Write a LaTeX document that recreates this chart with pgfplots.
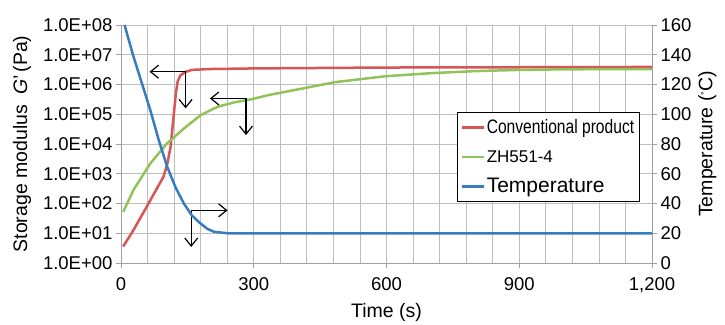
\documentclass[border=0pt]{standalone}
\usepackage{pgfplots}
\pgfplotsset{compat=1.18}
\usepackage{graphicx}
\usepackage{fontspec}
\setmainfont{Liberation Sans}
\usetikzlibrary{arrows.meta}
\definecolor{cred}{RGB}{215,85,85}
\definecolor{cgreen}{RGB}{145,195,90}
\definecolor{cblue}{RGB}{55,125,190}
\definecolor{cgrid}{RGB}{190,190,190}
\definecolor{caxis}{RGB}{160,160,160}
\begin{document}
\begin{tikzpicture}[font=\fontsize{18}{18}\selectfont]
\pgfplotsset{
  every axis/.append style={
    scale only axis, width=531pt, height=238pt,
    xmin=0, xmax=1200,
    tick align=outside, major tick length=5pt, minor tick length=0pt,
    tick style={caxis, line width=0.8pt},
    axis line style={caxis, line width=0.8pt},
    /pgf/number format/assume math mode=true,
    ticklabel style={font=\fontsize{18.5}{18}\selectfont},
    label style={font=\fontsize{19.5}{22}\selectfont},
  }
}
\begin{axis}[
  name=ax,
  ymode=log, ymin=1, ymax=1e8,
  axis x line*=bottom, axis y line*=left,
  ytick={1,10,100,1000,10000,100000,1000000,10000000,100000000},
  yticklabels={1.0E+00,1.0E+01,1.0E+02,1.0E+03,1.0E+04,1.0E+05,1.0E+06,1.0E+07,1.0E+08},
  minor ytick={},
  xtick={0,300,600,900,1200},
  xticklabels={0,300,600,900,{1,200}},
  minor xtick={60,120,180,240,360,420,480,540,660,720,780,840,960,1020,1080,1140},
  xmajorgrids=true, xminorgrids=true, ymajorgrids=true, yminorgrids=false,
  major grid style={cgrid, line width=0.8pt},
  minor grid style={cgrid, line width=0.8pt},
  xticklabel style={yshift=-6pt},
  xlabel={Time (s)},
  ylabel={Storage modulus\hspace{10pt}{\itshape G}’\hspace{3pt}(Pa)},
  xlabel style={yshift=-4pt},
  ylabel style={yshift=5pt},
  clip=true,
]
\addplot[cred, line width=2.5pt] coordinates {
(5,3.6) (28,12.6) (66,126) (96,794) (105,2240) (112,7940) (116,31600) (120,126000) (124,501000) (128,1260000) (134,2000000) (145,2630000) (160,3090000) (200,3310000) (300,3470000) (600,3720000) (900,3800000) (1200,3890000)
};
\addplot[cgreen, line width=2.5pt] coordinates {
(5,52.5) (28,282) (66,2190) (104,10500) (142,33100) (180,93300) (218,178000) (256,251000) (294,316000) (332,437000) (408,724000) (484,1200000) (598,1900000) (700,2400000) (800,2820000) (900,3090000) (1000,3240000) (1200,3310000)
};
\draw[black, line width=1.2pt, -{Straight Barb[length=8pt,width=13pt]}] (axis cs:146,2.69e6) -- (axis cs:64.6,2.69e6);
\draw[black, line width=1.2pt, -{Straight Barb[length=8pt,width=13pt]}] (axis cs:146,2.69e6) -- (axis cs:146,1.58e5);
\draw[black, line width=1.2pt, -{Straight Barb[length=8pt,width=13pt]}] (axis cs:282.5,3.39e5) -- (axis cs:201,3.39e5);
\draw[black, line width=1.2pt, -{Straight Barb[length=8pt,width=13pt]}] (axis cs:282.5,3.39e5) -- (axis cs:282.5,2.0e4);
\draw[black, line width=1.2pt, -{Straight Barb[length=8pt,width=13pt]}] (axis cs:158.7,58.9) -- (axis cs:240.8,58.9);
\draw[black, line width=1.2pt, -{Straight Barb[length=8pt,width=13pt]}] (axis cs:158.7,58.9) -- (axis cs:158.7,3.47);
\end{axis}
\begin{axis}[
  ymin=0, ymax=160,
  axis x line=none, axis y line*=right,
  ytick={0,20,...,160},
  ylabel={Temperature (\raisebox{5pt}{\fontsize{9}{9}\selectfont °}C)},
  ylabel style={yshift=0pt},
  legend style={at={(0.977,0.634)}, anchor=north east, draw=black, line width=1.2pt,
    fill=white, cells={anchor=west}, row sep=11pt, inner xsep=3pt, inner ysep=5pt},
  legend image code/.code={\draw[#1, line width=2.5pt] (0pt,0pt) -- (22pt,0pt);},
]
\addlegendimage{cred}
\addlegendentry{\scalebox{0.8}[1]{\fontsize{19.5}{20}\selectfont Conventional product}}
\addlegendimage{cgreen}
\addlegendentry{\fontsize{17}{20}\selectfont ZH551-4}
\addplot[cblue, line width=2.5pt] coordinates {
(8,160) (28,139) (47,121) (66,103) (85,83) (104,65) (123,51) (142,40) (160,32) (180,26.5) (195,23) (210,21) (241,20) (1200,20)
};
\addlegendentry{\fontsize{21}{22}\selectfont Temperature}
\end{axis}
\pgfresetboundingbox
\path ([shift={(-121pt,-61pt)}]ax.south west) rectangle ([shift={(73pt,25pt)}]ax.north east);
\end{tikzpicture}
\end{document}
